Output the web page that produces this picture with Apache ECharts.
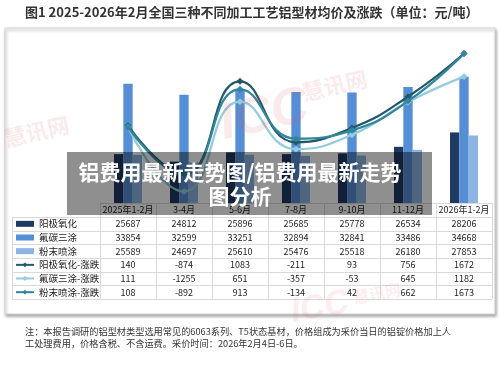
<!DOCTYPE html>
<html><head><meta charset="utf-8">
<script src="https://cdn.jsdelivr.net/npm/echarts@6/dist/echarts.min.js"></script>
<style>html,body{margin:0;padding:0;background:#fff}#c{width:500px;height:368px}</style>
</head><body><div id="c"></div>
<script>
const categories = ['2025年1-2月','3-4月','5-6月','7-8月','9-10月','11-12月','2026年1-2月'];
const anodized = [25687,24812,25896,25685,25778,26534,28206];
const fluorocarbon = [33854,32599,33251,32894,32841,33486,34668];
const powder = [25589,24697,25610,25476,25518,26180,27853];
const anodizedChg = [140,-874,1083,-211,93,756,1672];
const fluorocarbonChg = [111,-1255,651,-357,-53,645,1182];
const powderChg = [108,-892,913,-134,42,662,1673];
const seriesNames = ['阳极氧化','氟碳三涂','粉末喷涂','阳极氧化-涨跌','氟碳三涂-涨跌','粉末喷涂-涨跌'];
const rowData = [anodized,fluorocarbon,powder,anodizedChg,fluorocarbonChg,powderChg];
const colors = ['#1f3a63','#558ed5','#8eb4e3','#215968','#93cddd','#31859c'];

const FONT = '"Noto Sans CJK SC","Liberation Sans",sans-serif';
const GL = 100, GR = 492, GT = 31, GB = 203;
const HEAD_B = 217, TABLE_B = 299, ROW_H = (TABLE_B - HEAD_B) / 6, TL = 12;
const colW = (GR - GL) / categories.length;

const axisBase = {type:'category', data:categories, position:'bottom',
  axisLine:{show:false}, axisTick:{show:false}, splitLine:{show:false}};
const xAxes = [Object.assign({}, axisBase, {offset: (GB + HEAD_B)/2 - GB,
  axisLabel:{interval:0, margin:0, verticalAlign:'middle', fontSize:9, color:'#222', fontFamily:FONT}})];
rowData.forEach((arr, r) => {
  xAxes.push(Object.assign({}, axisBase, {offset: HEAD_B - GB + ROW_H*(r+0.5),
    axisLabel:{interval:0, margin:0, verticalAlign:'middle', fontSize:9, color:'#222', fontFamily:FONT,
      formatter:(v,i)=>String(arr[i])}}));
});

const g = [];
// panel
g.push({type:'rect', z:-10, shape:{x:5, y:28, width:490, height:286},
  style:{fill:'#fff', stroke:'#d4d4d4', lineWidth:1, shadowBlur:3, shadowOffsetX:1, shadowOffsetY:2, shadowColor:'rgba(0,0,0,0.35)'}});
// table lines
const lc = '#d9d9d9';
g.push({type:'line', z:1, shape:{x1:GL, y1:GB+0.5, x2:GR, y2:GB+0.5}, style:{stroke:lc}});
for (let r = 0; r <= 6; r++) {
  const y = Math.round(HEAD_B + ROW_H*r) + 0.5;
  g.push({type:'line', z:1, shape:{x1:TL, y1:y, x2:GR, y2:y}, style:{stroke:lc}});
}
for (let k = 0; k <= categories.length; k++) {
  const x = Math.round(GL + colW*k) + 0.5;
  g.push({type:'line', z:1, shape:{x1:x, y1:GB, x2:x, y2:TABLE_B}, style:{stroke:lc}});
}
g.push({type:'line', z:1, shape:{x1:TL+0.5, y1:HEAD_B, x2:TL+0.5, y2:TABLE_B}, style:{stroke:lc}});
// watermarks
const wm = 'rgba(225,80,95,0.12)';
g.push({type:'text', z:50, x:215, y:100, rotation:0.22, style:{text:'ICC', font:'italic bold 52px "Liberation Sans",sans-serif', fill:wm}});
g.push({type:'text', z:50, x:300, y:82, rotation:0.22, style:{text:'慧讯网', font:'bold 22px "Noto Sans CJK SC",sans-serif', fill:wm}});
g.push({type:'text', z:50, x:2, y:128, rotation:0.22, style:{text:'慧讯网', font:'bold 22px "Noto Sans CJK SC",sans-serif', fill:wm}});
g.push({type:'text', z:50, x:288, y:296, rotation:0.18, style:{text:'ICC', font:'italic bold 34px "Liberation Sans",sans-serif', fill:'rgba(225,80,95,0.10)'}});
g.push({type:'text', z:50, x:352, y:290, rotation:0.18, style:{text:'慧讯网', font:'bold 16px "Noto Sans CJK SC",sans-serif', fill:'rgba(225,80,95,0.10)'}});
// overlay
g.push({type:'rect', z:100, shape:{x:67, y:152, width:365, height:63}, style:{fill:'rgba(0,0,0,0.44)'}});
g.push({type:'text', z:101, x:240, y:160, style:{text:'铝费用最新走势图/铝费用最新走势\n图分析', fill:'#fff', align:'center',
  font:'bold 21px "Noto Sans CJK SC",sans-serif', lineHeight:24}});
// footnote
g.push({type:'text', z:5, x:25, y:326, style:{text:'注：本报告调研的铝型材类型选用常见的6063系列、T5状态基材，价格组成为采价当日的铝锭价格加上人\n工处理费用，价格含税、不含运费。采价时间：2026年2月4日-6日。',
  fill:'#333', font:'9.2px "Noto Sans CJK SC",sans-serif', lineHeight:11.5}});

const series = [];
[anodized, fluorocarbon, powder].forEach((d, i) => series.push({
  name: seriesNames[i], type:'bar', data:d, xAxisIndex:0, yAxisIndex:0,
  barGap:'0%', barCategoryGap:'50%', itemStyle:{color:colors[i]}, z:2
}));
[anodizedChg, fluorocarbonChg, powderChg].forEach((d, i) => series.push({
  name: seriesNames[i+3], type:'line', data:d, xAxisIndex:0, yAxisIndex:1, smooth:0.5,
  symbol:'diamond', symbolSize:7, lineStyle:{width:2.25, color:colors[i+3]}, itemStyle:{color:colors[i+3]}, z:3+i
}));

const chart = echarts.init(document.getElementById('c'), null, {renderer:'canvas'});
chart.setOption({
  animation:false,
  backgroundColor:'#fff',
  title:{text:'图1 2025-2026年2月全国三种不同加工工艺铝型材均价及涨跌（单位：元/吨）', left:25, top:6, padding:0,
    textStyle:{fontSize:13, fontWeight:'bold', color:'#333', fontFamily:FONT}},
  grid:{left:GL, right:500-GR, top:GT, bottom:368-GB},
  legend:{orient:'vertical', left:15, top:HEAD_B, padding:0, itemGap:0, itemWidth:18, itemHeight:6, selectedMode:false,
    data: seriesNames.map((n,i)=> i<3 ? {name:n, icon:'rect'} : {name:n}),
    textStyle:{fontSize:9.5, color:'#222', fontFamily:FONT, lineHeight:ROW_H, padding:[0,0,0,0]}},
  xAxis: xAxes,
  yAxis:[{type:'value', min:20000, max:40000, show:false}, {type:'value', min:-1500, max:2150, show:false}],
  series: series,
  graphic:{elements:g}
});
</script></body></html>
